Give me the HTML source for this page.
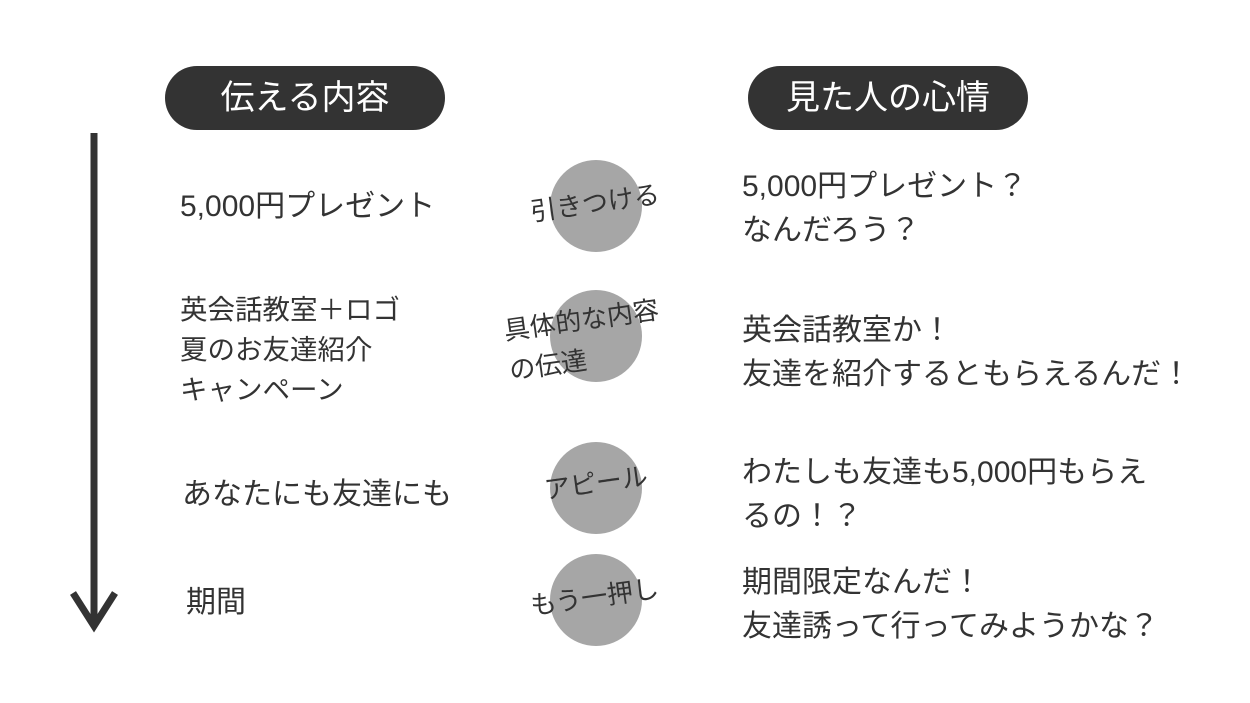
<!DOCTYPE html><html><head><meta charset="utf-8"><style>
body{margin:0;width:1250px;height:703px;background:#fff;position:relative;overflow:hidden;font-family:"Liberation Sans","Noto Sans CJK JP",sans-serif;color:#333}
.t{position:absolute;font-size:30px;line-height:44px;white-space:nowrap}
.pill{position:absolute;background:#333;color:#fff;border-radius:32px;font-size:34px;text-align:center;line-height:64px;height:64px;width:280px}
.c{position:absolute;width:92px;height:92px;border-radius:50%;background:#a6a6a6}
.l{position:absolute;font-size:26px;line-height:34px;white-space:nowrap;transform:rotate(-8deg);transform-origin:center}
</style></head><body>
<div class="pill" style="left:165px;top:66px">伝える内容</div>
<div class="pill" style="left:748px;top:66px">見た人の心情</div>
<svg style="position:absolute;left:0;top:0" width="1250" height="703"><line x1="94" y1="133" x2="94" y2="626" stroke="#333" stroke-width="7"/><polyline points="73,593 94,626 115,593" fill="none" stroke="#333" stroke-width="7"/></svg>
<div class="t" style="left:180px;top:185px">5,000円プレゼント</div>
<div class="t" style="left:180px;top:290px;font-size:27.5px;line-height:40px">英会話教室＋ロゴ<br>夏のお友達紹介<br>キャンペーン</div>
<div class="t" style="left:182px;top:473px">あなたにも友達にも</div>
<div class="t" style="left:186px;top:581px">期間</div>
<div class="c" style="left:550px;top:160px"></div>
<div class="c" style="left:550px;top:290px"></div>
<div class="c" style="left:550px;top:442px"></div>
<div class="c" style="left:550px;top:554px"></div>
<div class="l" style="left:530px;top:186px">引きつける</div>
<div class="l" style="left:506px;top:300px;line-height:40px">具体的な内容<br>の伝達</div>
<div class="l" style="left:544px;top:466px">アピール</div>
<div class="l" style="left:530px;top:580px">もう一押し</div>
<div class="t" style="left:742px;top:165px">5,000円プレゼント？<br>なんだろう？</div>
<div class="t" style="left:742px;top:309px">英会話教室か！<br>友達を紹介するともらえるんだ！</div>
<div class="t" style="left:742px;top:451px">わたしも友達も5,000円もらえ<br>るの！？</div>
<div class="t" style="left:742px;top:561px">期間限定なんだ！<br>友達誘って行ってみようかな？</div>
</body></html>
